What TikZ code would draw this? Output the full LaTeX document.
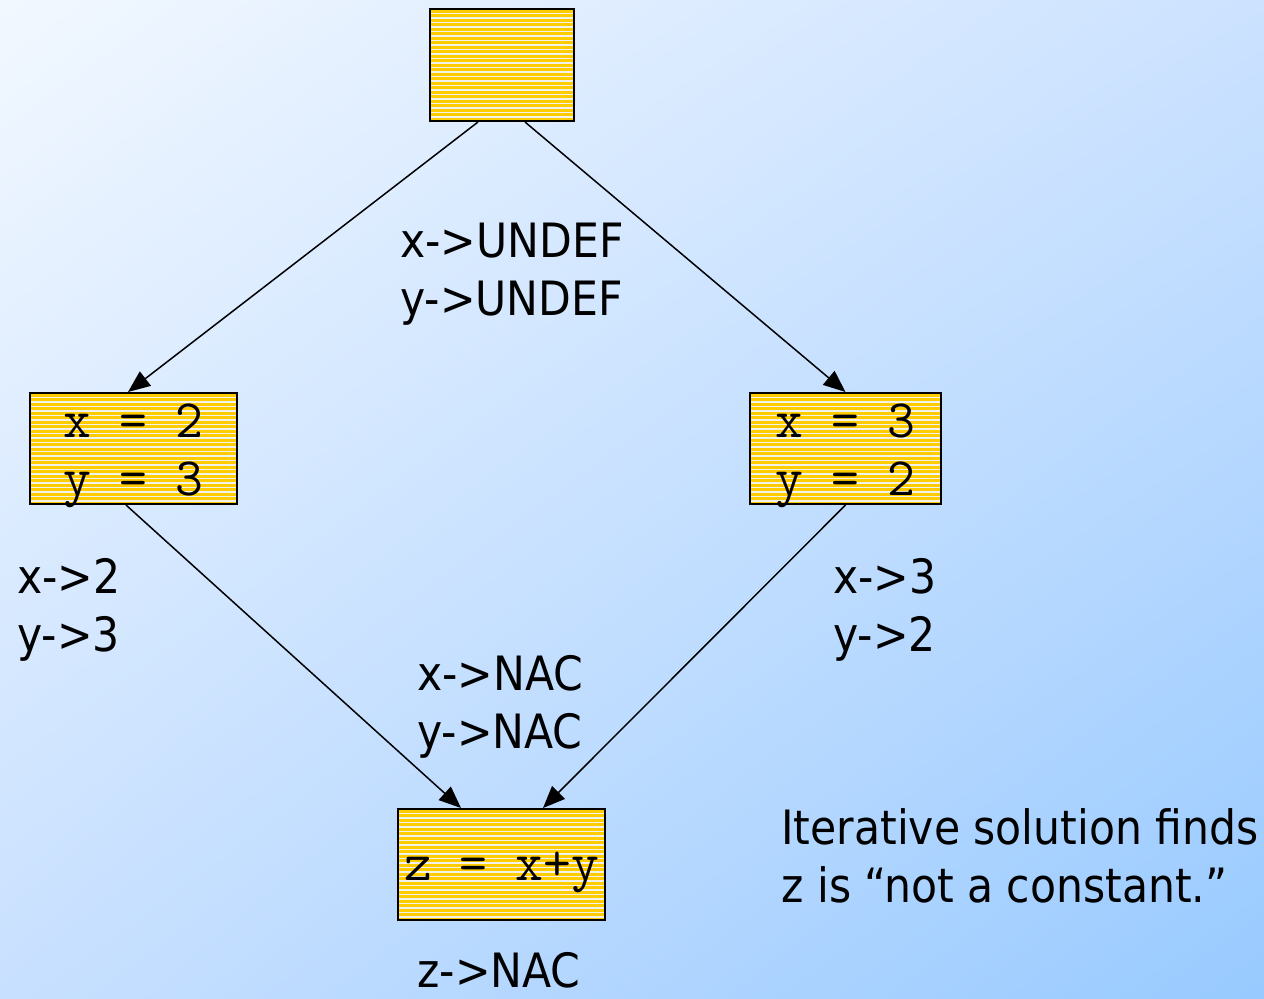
\documentclass[tikz,border=0pt]{standalone}
\usepackage{fontspec}
\setmainfont{DejaVu Sans}
\newfontfamily\labelfont{DejaVu Sans Condensed}
\usetikzlibrary{arrows.meta,calc,shadings}

\definecolor{bgTL}{RGB}{242,248,255}
\definecolor{bgTR}{RGB}{204,226,255}
\definecolor{bgBL}{RGB}{200,224,255}
\definecolor{bgBR}{RGB}{152,202,255}
\definecolor{boxyellow}{RGB}{255,204,0}
\definecolor{stripecol}{RGB}{242,242,236}

\begin{document}
\begin{tikzpicture}[x=0.5pt,y=-0.5pt,
  stripe/.style={draw=stripecol,line width=0.55pt},
  block/.style={draw=black,line width=1pt,fill=boxyellow,inner sep=0pt,
    path picture={
      \foreach \k in {1,...,30}{
        \draw[stripe] ($(path picture bounding box.north west)+(0,\k*4.5)$)
          -- ($(path picture bounding box.north east)+(0,\k*4.5)$);
      }}},
  code/.style={inner sep=0pt,align=center,font=\ttfamily\fontsize{27}{29}\selectfont},
  flow/.style={draw=black,line width=0.75pt,-{Triangle[length=11pt,width=9pt]}},
  lbl/.style={inner sep=0pt,anchor=west,align=left,
    font=\labelfont\fontsize{23.65}{29}\selectfont}
]
% background
\useasboundingbox (0,0) rectangle (1264,998);
\shade[upper left=bgTL,upper right=bgTR,lower left=bgBL,lower right=bgBR]
  (0,0) rectangle (1264,998);

% blocks
\node[block,minimum width=72pt,minimum height=56pt] (entry) at (502,65) {};
\node[block,minimum width=103.5pt,minimum height=55.5pt] (left) at (133.5,448.5) {};
\node[block,minimum width=95.5pt,minimum height=55.5pt] (right) at (845.5,448.5) {};
\node[block,minimum width=103.5pt,minimum height=55.5pt] (join) at (501.5,864.5) {};

% statements inside the blocks
\node[code] (leftcode) at ($(left.center)+(0,7)$) {x = 2\\y = 3};
\node[code] (rightcode) at ($(right.center)+(0,7)$) {x = 3\\y = 2};
\node[code] (joincode) at ($(join.center)+(0,8)$) {z = x+y};

% edges
\draw[flow] ($(entry.south)+(-24,0)$) -- ($(left.north)+(-5.5,0)$);
\draw[flow] ($(entry.south)+(23,0)$) -- ($(right.north)+(0,0)$);
\draw[flow] ($(left.south)+(-7.5,0)$) -- ($(join.north)+(-40.5,0)$);
\draw[flow] ($(right.south)+(0,0)$) -- ($(join.north)+(41.5,0)$);

% facts
\node[lbl] (undef) at (400,274) {x->UNDEF\\y->UNDEF};
\node[lbl] (lfacts) at (17,610) {x->2\\y->3};
\node[lbl] (rfacts) at (833,610) {x->3\\y->2};
\node[lbl] (nac) at (417,707) {x->NAC\\y->NAC};
\node[lbl] (znac) at (417,970) {z->NAC};
\node[lbl] (note) at (781,856) {Iterative solution finds\\z is “not a constant.”};
\end{tikzpicture}
\end{document}
